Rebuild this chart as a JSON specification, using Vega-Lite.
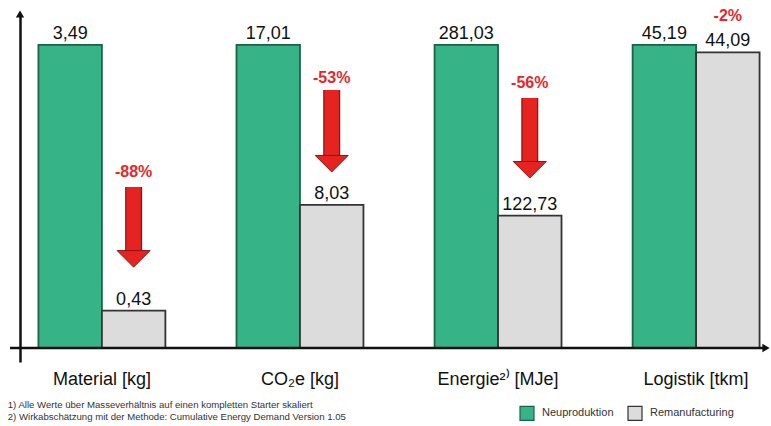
{
  "$schema": "https://vega.github.io/schema/vega-lite/v6.json",
  "width": 758,
  "height": 348,
  "autosize": "none",
  "padding": {"left": 20, "top": 14, "right": 0, "bottom": 64},
  "background": "white",
  "config": {
    "font": "Liberation Sans",
    "view": {"stroke": null},
    "locale": {"number": {"decimal": ",", "thousands": ".", "grouping": [3], "currency": ["", " €"]}}
  },
  "title": {
    "text": ["1) Alle Werte über Masseverhältnis auf einen kompletten Starter skaliert", "2) Wirkabschätzung mit der Methode: Cumulative Energy Demand Version 1.05"],
    "orient": "bottom",
    "anchor": "start",
    "dx": -1,
    "dy": -29,
    "offset": 6,
    "fontSize": 9.6,
    "fontWeight": "normal",
    "lineHeight": 12,
    "color": "#333333",
    "font": "Liberation Sans"
  },
  "datasets": {
    "bars": [
      {"category": "Material [kg]", "series": "Neuproduktion", "value": 3.49},
      {"category": "Material [kg]", "series": "Remanufacturing", "value": 0.43},
      {"category": "CO₂e [kg]", "series": "Neuproduktion", "value": 17.01},
      {"category": "CO₂e [kg]", "series": "Remanufacturing", "value": 8.03},
      {"category": "Energie²⁾ [MJe]", "series": "Neuproduktion", "value": 281.03},
      {"category": "Energie²⁾ [MJe]", "series": "Remanufacturing", "value": 122.73},
      {"category": "Logistik [tkm]", "series": "Neuproduktion", "value": 45.19},
      {"category": "Logistik [tkm]", "series": "Remanufacturing", "value": 44.09}
    ],
    "arrows": [
      {"category": "Material [kg]", "series": "Remanufacturing", "change": "-88%", "labelY": 0.58, "top": 0.531, "headStart": 0.31, "tip": 0.267},
      {"category": "CO₂e [kg]", "series": "Remanufacturing", "change": "-53%", "labelY": 0.891, "top": 0.851, "headStart": 0.62, "tip": 0.581},
      {"category": "Energie²⁾ [MJe]", "series": "Remanufacturing", "change": "-56%", "labelY": 0.875, "top": 0.825, "headStart": 0.6, "tip": 0.561},
      {"category": "Logistik [tkm]", "series": "Remanufacturing", "change": "-2%", "labelY": 1.094}
    ],
    "axisline": [{"level": 0}]
  },
  "encoding": {
    "x": {
      "field": "category",
      "type": "nominal",
      "sort": ["Material [kg]", "CO₂e [kg]", "Energie²⁾ [MJe]", "Logistik [tkm]"],
      "scale": {"paddingInner": 0.359, "paddingOuter": 0.093},
      "axis": {"title": null, "domain": false, "ticks": false, "labelAngle": 0, "labelFontSize": 18, "labelColor": "#111111", "labelPadding": 8, "labelFont": "Liberation Sans"}
    },
    "xOffset": {
      "field": "series",
      "type": "nominal",
      "scale": {"domain": ["Neuproduktion", "Remanufacturing"], "paddingInner": 0, "paddingOuter": 0}
    }
  },
  "layer": [
    {
      "data": {"name": "bars"},
      "transform": [
        {"joinaggregate": [{"op": "max", "field": "value", "as": "maxv"}], "groupby": ["category"]},
        {"calculate": "datum.value / datum.maxv", "as": "rel"}
      ],
      "layer": [
        {
          "mark": {"type": "bar", "strokeWidth": 1.8},
          "encoding": {
            "y": {
              "field": "rel",
              "type": "quantitative",
              "scale": {"domain": [-0.046, 1.102], "nice": false, "zero": false},
              "axis": {"title": null, "labels": false, "ticks": false, "grid": false, "domain": true, "domainColor": "#111111", "domainWidth": 2.5}
            },
            "y2": {"datum": 0},
            "color": {
              "field": "series",
              "type": "nominal",
              "scale": {"domain": ["Neuproduktion", "Remanufacturing"], "range": ["#36b387", "#dcdcdc"]},
              "legend": {
                "title": null,
                "orient": "none",
                "legendX": 499,
                "legendY": 391,
                "direction": "horizontal",
                "symbolType": "square",
                "symbolSize": 196,
                "symbolStrokeWidth": 1.2,
                "symbolStrokeColor": "#555555",
                "labelFontSize": 11,
                "labelColor": "#333333",
                "labelFont": "Liberation Sans",
                "columnPadding": 11,
                "labelOffset": 7
              }
            },
            "stroke": {
              "field": "series",
              "type": "nominal",
              "scale": {"domain": ["Neuproduktion", "Remanufacturing"], "range": ["#1d6246", "#333333"]},
              "legend": null
            }
          }
        },
        {
          "mark": {"type": "text", "baseline": "bottom", "dy": -2, "fontSize": 18, "color": "#111111", "font": "Liberation Sans"},
          "encoding": {
            "y": {"field": "rel", "type": "quantitative"},
            "text": {"field": "value", "type": "quantitative", "format": ".2f"}
          }
        }
      ]
    },
    {
      "data": {"name": "arrows"},
      "transform": [{"filter": "isValid(datum.top)"}],
      "layer": [
        {
          "mark": {"type": "rule", "color": "#8c1414", "strokeWidth": 17, "strokeCap": "butt"},
          "encoding": {
            "y": {"field": "top", "type": "quantitative"},
            "y2": {"field": "headStart"}
          }
        },
        {
          "mark": {"type": "rule", "color": "#e52421", "strokeWidth": 14.5, "strokeCap": "butt"},
          "encoding": {
            "y": {"field": "top", "type": "quantitative"},
            "y2": {"field": "headStart"}
          }
        },
        {
          "mark": {"type": "point", "shape": "M-1,-1L1,-1L0,0Z", "size": 1089, "filled": true, "color": "#e52421", "stroke": "#8c1414", "strokeWidth": 1, "opacity": 1},
          "encoding": {
            "y": {"field": "tip", "type": "quantitative"}
          }
        }
      ]
    },
    {
      "data": {"name": "arrows"},
      "mark": {"type": "text", "fontSize": 16, "fontWeight": "bold", "color": "#e8262a", "font": "Liberation Sans"},
      "encoding": {
        "y": {"field": "labelY", "type": "quantitative"},
        "text": {"field": "change"}
      }
    },
    {
      "data": {"name": "axisline"},
      "mark": {"type": "rule", "color": "#111111", "strokeWidth": 2.5},
      "encoding": {"y": {"field": "level", "type": "quantitative"}, "x": {"value": -10}, "x2": {"value": 746}, "xOffset": null}
    },
    {
      "data": {"name": "axisline"},
      "mark": {"type": "point", "shape": "triangle-up", "size": 70, "filled": true, "color": "#111111", "opacity": 1},
      "encoding": {"y": {"datum": 1.102}, "x": {"value": 0}, "xOffset": null}
    },
    {
      "data": {"name": "axisline"},
      "mark": {"type": "point", "shape": "triangle-right", "size": 70, "filled": true, "color": "#111111", "opacity": 1},
      "encoding": {"y": {"field": "level", "type": "quantitative"}, "x": {"value": 746}, "xOffset": null}
    }
  ]
}
